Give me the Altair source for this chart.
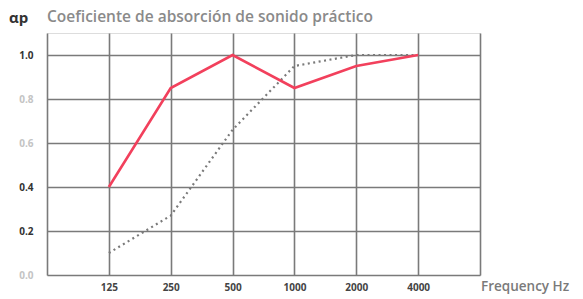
import altair as alt
import pandas as pd

freqs = ["125", "250", "500", "1000", "2000", "4000"]
solid_values = [0.40, 0.85, 1.00, 0.85, 0.95, 1.00]
dotted_values = [0.10, 0.27, 0.66, 0.95, 1.00, 1.00]

rows = []
for i, f in enumerate(freqs):
    rows.append({"idx": i, "freq": f, "alpha": solid_values[i], "series": "solid"})
    rows.append({"idx": i, "freq": f, "alpha": dotted_values[i], "series": "dotted"})
df = pd.DataFrame(rows)

GRID = "#7a7a7a"
label_list = "['" + "','".join(freqs) + "']"

x_enc = alt.X(
    "idx:Q",
    scale=alt.Scale(domain=[-1, 6], nice=False, zero=False),
    axis=alt.Axis(
        values=list(range(-1, 7)),
        labelExpr=f"datum.value >= 0 && datum.value <= 5 ? {label_list}[datum.value] : ''",
        grid=True, gridColor=GRID, gridWidth=1.6, gridOpacity=1,
        domain=False, ticks=False, title=None,
        labelFont="Open Sans", labelFontSize=10, labelFontWeight="bold",
        labelColor="#444", labelPadding=7,
    ),
)
y_values = [round(v * 0.1, 1) for v in range(0, 12)]
y_enc = alt.Y(
    "alpha:Q",
    scale=alt.Scale(domain=[0, 1.1], nice=False),
    axis=alt.Axis(
        values=y_values,
        labelExpr="indexof(['0.0','0.2','0.4','0.6','0.8','1.0'], format(datum.value, '.1f')) >= 0 ? format(datum.value, '.1f') : ''",
        labelColor=alt.ExprRef(expr="indexof(['0.2','0.4','1.0'], format(datum.value, '.1f')) >= 0 ? '#333' : '#c4c4c4'"),
        grid=True, gridColor=GRID, gridWidth=1.6, gridOpacity=1,
        domain=False, ticks=False, title=None,
        labelFont="Open Sans", labelFontSize=10, labelFontWeight="bold",
        labelPadding=14,
    ),
)

solid = alt.Chart(df).transform_filter(alt.datum.series == "solid").mark_line(
    color="#f2405c", strokeWidth=2.6
).encode(x=x_enc, y=y_enc)

dotted = alt.Chart(df).transform_filter(alt.datum.series == "dotted").mark_line(
    color="#7a7a7a", strokeWidth=2.2, strokeDash=[2, 3.5]
).encode(x="idx:Q", y="alpha:Q")

title_df = pd.DataFrame({"t": ["Coeficiente de absorción de sonido práctico"]})
title = alt.Chart(title_df).mark_text(
    align="left", baseline="alphabetic", font="Open Sans", fontSize=15.5,
    fontWeight=600, color="#8a8a8a"
).encode(x=alt.value(0), y=alt.value(-11), text="t:N")

sym_df = pd.DataFrame({"t": ["αp"]})
sym = alt.Chart(sym_df).mark_text(
    align="left", baseline="alphabetic", font="Open Sans", fontSize=15,
    fontWeight="bold", color="#333"
).encode(x=alt.value(-38), y=alt.value(-10), text="t:N")

xt_df = pd.DataFrame({"t": ["Frequency Hz"]})
xtitle = alt.Chart(xt_df).mark_text(
    align="left", baseline="middle", font="Open Sans", fontSize=13.5,
    fontWeight=600, color="#7a7a7a"
).encode(x=alt.value(434), y=alt.value(254), text="t:N")

chart = alt.layer(dotted, solid, title, sym, xtitle).properties(
    width=433, height=242,
    padding={"left": 1, "top": 2, "right": 2, "bottom": 2},
    autosize=alt.AutoSizeParams(type="pad"),
).configure_view(stroke=GRID, strokeWidth=1.6).configure(background="white")

chart.save("out.html", embed_options={"renderer": "svg", "actions": False})
